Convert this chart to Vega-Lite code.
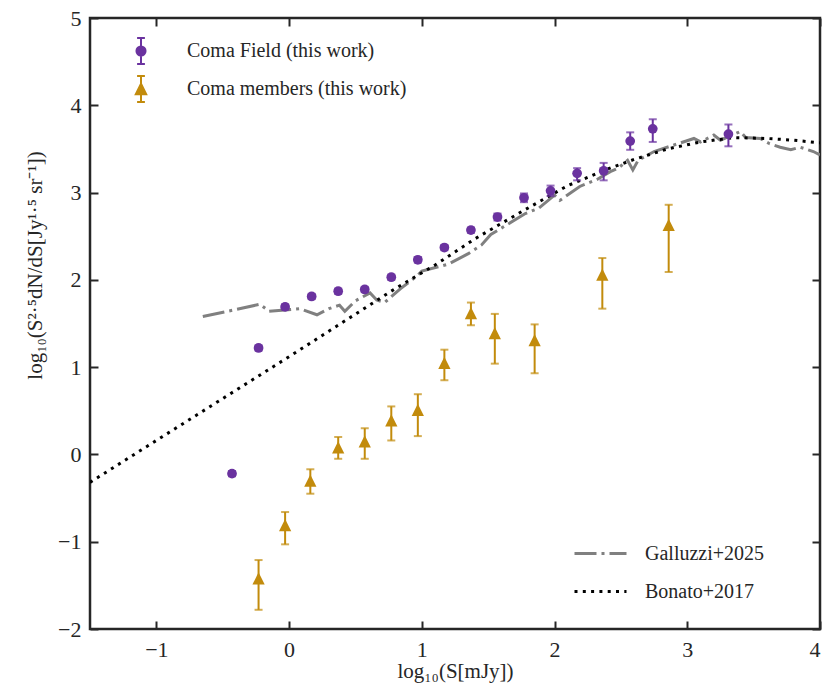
{
  "$schema": "https://vega.github.io/schema/vega-lite/v6.json",
  "width": 730,
  "height": 611,
  "autosize": "none",
  "padding": {"left": 90, "top": 18, "right": 7, "bottom": 62},
  "background": "white",
  "config": {
    "view": {"stroke": "#262626", "strokeWidth": 2.5},
    "font": "Liberation Serif",
    "axis": {
      "grid": false, "domain": false, "ticks": true, "tickSize": -8, "tickWidth": 2,
      "tickColor": "#262626", "labelFont": "Liberation Serif", "labelFontSize": 22,
      "labelColor": "#262626", "titleFont": "Liberation Serif", "titleFontSize": 21,
      "titleFontWeight": "normal", "titleColor": "#262626"
    },
    "legend": {"labelFont": "Liberation Serif", "labelFontSize": 20, "labelColor": "#262626", "labelLimit": 500, "padding": 0, "title": null}
  },
  "datasets": {
    "field": [
      {"x": -0.43, "y": -0.22, "lo": -0.25, "hi": -0.19},
      {"x": -0.23, "y": 1.22, "lo": 1.19, "hi": 1.25},
      {"x": -0.03, "y": 1.69, "lo": 1.66, "hi": 1.72},
      {"x": 0.17, "y": 1.81, "lo": 1.78, "hi": 1.84},
      {"x": 0.37, "y": 1.87, "lo": 1.84, "hi": 1.9},
      {"x": 0.57, "y": 1.89, "lo": 1.86, "hi": 1.92},
      {"x": 0.77, "y": 2.03, "lo": 2.0, "hi": 2.06},
      {"x": 0.97, "y": 2.23, "lo": 2.2, "hi": 2.26},
      {"x": 1.17, "y": 2.37, "lo": 2.34, "hi": 2.4},
      {"x": 1.37, "y": 2.57, "lo": 2.54, "hi": 2.6},
      {"x": 1.57, "y": 2.72, "lo": 2.68, "hi": 2.76},
      {"x": 1.77, "y": 2.94, "lo": 2.89, "hi": 2.99},
      {"x": 1.97, "y": 3.02, "lo": 2.96, "hi": 3.08},
      {"x": 2.17, "y": 3.22, "lo": 3.14, "hi": 3.28},
      {"x": 2.37, "y": 3.25, "lo": 3.14, "hi": 3.34},
      {"x": 2.57, "y": 3.59, "lo": 3.49, "hi": 3.69},
      {"x": 2.74, "y": 3.73, "lo": 3.58, "hi": 3.84},
      {"x": 3.31, "y": 3.67, "lo": 3.53, "hi": 3.78}
    ],
    "members": [
      {"x": -0.23, "y": -1.42, "lo": -1.78, "hi": -1.21},
      {"x": -0.03, "y": -0.81, "lo": -1.03, "hi": -0.66},
      {"x": 0.16, "y": -0.3, "lo": -0.45, "hi": -0.17},
      {"x": 0.37, "y": 0.08, "lo": -0.05, "hi": 0.2},
      {"x": 0.57, "y": 0.15, "lo": -0.05, "hi": 0.3},
      {"x": 0.77, "y": 0.39, "lo": 0.16, "hi": 0.55},
      {"x": 0.97, "y": 0.51, "lo": 0.21, "hi": 0.69},
      {"x": 1.17, "y": 1.05, "lo": 0.85, "hi": 1.2},
      {"x": 1.37, "y": 1.62, "lo": 1.48, "hi": 1.74},
      {"x": 1.55, "y": 1.39, "lo": 1.04, "hi": 1.61},
      {"x": 1.85, "y": 1.31, "lo": 0.93, "hi": 1.49},
      {"x": 2.36, "y": 2.06, "lo": 1.67, "hi": 2.25},
      {"x": 2.86, "y": 2.63, "lo": 2.09, "hi": 2.86}
    ],
    "bonato": [
      {"model": "Bonato+2017", "x": -1.5, "y": -0.32},
      {"model": "Bonato+2017", "x": -1.0, "y": 0.16},
      {"model": "Bonato+2017", "x": -0.5, "y": 0.64},
      {"model": "Bonato+2017", "x": 0.0, "y": 1.12},
      {"model": "Bonato+2017", "x": 0.4, "y": 1.51},
      {"model": "Bonato+2017", "x": 0.8, "y": 1.9},
      {"model": "Bonato+2017", "x": 1.1, "y": 2.17},
      {"model": "Bonato+2017", "x": 1.4, "y": 2.47},
      {"model": "Bonato+2017", "x": 1.75, "y": 2.78},
      {"model": "Bonato+2017", "x": 2.1, "y": 3.08},
      {"model": "Bonato+2017", "x": 2.4, "y": 3.27},
      {"model": "Bonato+2017", "x": 2.6, "y": 3.38},
      {"model": "Bonato+2017", "x": 2.85, "y": 3.5},
      {"model": "Bonato+2017", "x": 3.1, "y": 3.58},
      {"model": "Bonato+2017", "x": 3.35, "y": 3.63},
      {"model": "Bonato+2017", "x": 3.6, "y": 3.62},
      {"model": "Bonato+2017", "x": 3.8, "y": 3.6},
      {"model": "Bonato+2017", "x": 4.0, "y": 3.57}
    ],
    "galluzzi": [
      {"model": "Galluzzi+2025", "x": -0.65, "y": 1.58},
      {"model": "Galluzzi+2025", "x": -0.4, "y": 1.66},
      {"model": "Galluzzi+2025", "x": -0.22, "y": 1.72},
      {"model": "Galluzzi+2025", "x": -0.15, "y": 1.64},
      {"model": "Galluzzi+2025", "x": 0.08, "y": 1.67},
      {"model": "Galluzzi+2025", "x": 0.21, "y": 1.6},
      {"model": "Galluzzi+2025", "x": 0.3, "y": 1.67},
      {"model": "Galluzzi+2025", "x": 0.38, "y": 1.71},
      {"model": "Galluzzi+2025", "x": 0.42, "y": 1.64},
      {"model": "Galluzzi+2025", "x": 0.5, "y": 1.76},
      {"model": "Galluzzi+2025", "x": 0.61, "y": 1.85},
      {"model": "Galluzzi+2025", "x": 0.66, "y": 1.77},
      {"model": "Galluzzi+2025", "x": 0.72, "y": 1.74},
      {"model": "Galluzzi+2025", "x": 0.84, "y": 1.9},
      {"model": "Galluzzi+2025", "x": 0.96, "y": 2.04},
      {"model": "Galluzzi+2025", "x": 1.0, "y": 2.1},
      {"model": "Galluzzi+2025", "x": 1.2, "y": 2.18},
      {"model": "Galluzzi+2025", "x": 1.35, "y": 2.3},
      {"model": "Galluzzi+2025", "x": 1.45, "y": 2.4},
      {"model": "Galluzzi+2025", "x": 1.52, "y": 2.52},
      {"model": "Galluzzi+2025", "x": 1.64, "y": 2.63},
      {"model": "Galluzzi+2025", "x": 1.78, "y": 2.76},
      {"model": "Galluzzi+2025", "x": 1.88, "y": 2.82},
      {"model": "Galluzzi+2025", "x": 2.0, "y": 2.97},
      {"model": "Galluzzi+2025", "x": 2.04, "y": 2.91},
      {"model": "Galluzzi+2025", "x": 2.19, "y": 3.07},
      {"model": "Galluzzi+2025", "x": 2.32, "y": 3.15},
      {"model": "Galluzzi+2025", "x": 2.42, "y": 3.24},
      {"model": "Galluzzi+2025", "x": 2.48, "y": 3.28},
      {"model": "Galluzzi+2025", "x": 2.55, "y": 3.37},
      {"model": "Galluzzi+2025", "x": 2.59, "y": 3.26},
      {"model": "Galluzzi+2025", "x": 2.63, "y": 3.37},
      {"model": "Galluzzi+2025", "x": 2.75, "y": 3.47},
      {"model": "Galluzzi+2025", "x": 2.95, "y": 3.57},
      {"model": "Galluzzi+2025", "x": 3.05, "y": 3.62},
      {"model": "Galluzzi+2025", "x": 3.1, "y": 3.58},
      {"model": "Galluzzi+2025", "x": 3.2, "y": 3.66},
      {"model": "Galluzzi+2025", "x": 3.25, "y": 3.6},
      {"model": "Galluzzi+2025", "x": 3.4, "y": 3.7},
      {"model": "Galluzzi+2025", "x": 3.44, "y": 3.63},
      {"model": "Galluzzi+2025", "x": 3.55, "y": 3.62},
      {"model": "Galluzzi+2025", "x": 3.62, "y": 3.56},
      {"model": "Galluzzi+2025", "x": 3.7, "y": 3.52},
      {"model": "Galluzzi+2025", "x": 3.78, "y": 3.49},
      {"model": "Galluzzi+2025", "x": 3.85, "y": 3.52},
      {"model": "Galluzzi+2025", "x": 3.95, "y": 3.47},
      {"model": "Galluzzi+2025", "x": 4.0, "y": 3.43}
    ]
  },
  "layer": [
    {
      "data": {"name": "galluzzi"},
      "mark": {"type": "line", "strokeWidth": 3, "color": "#808080", "clip": true},
      "encoding": {
        "x": {"field": "x", "type": "quantitative",
          "scale": {"domain": [-1.5, 4], "nice": false, "zero": false},
          "axis": {"orient": "bottom", "values": [-1, 0, 1, 2, 3, 4], "labelPadding": 18,
            "title": "log₁₀(S[mJy])", "titleY": 48, "titleBaseline": "alphabetic"}},
        "y": {"field": "y", "type": "quantitative",
          "scale": {"domain": [-2, 5], "nice": false, "zero": false},
          "axis": {"orient": "left", "values": [-2, -1, 0, 1, 2, 3, 4, 5], "labelPadding": 17,
            "title": "log₁₀(S²·⁵dN/dS[Jy¹·⁵ sr⁻¹])", "titleX": -55, "titleY": 247,
            "titleAngle": -90, "titleAlign": "center", "titleBaseline": "middle"}},
        "strokeDash": {"field": "model", "type": "nominal",
          "scale": {"domain": ["Galluzzi+2025"], "range": [[22, 5, 3, 5]]},
          "legend": {"orient": "none", "legendX": 483, "legendY": 508,
            "symbolType": "stroke", "symbolSize": 2704, "symbolStrokeWidth": 3,
            "symbolStrokeColor": "#808080", "labelOffset": 17}}
      }
    },
    {
      "data": {"name": "bonato"},
      "mark": {"type": "line", "strokeWidth": 3, "color": "#000000", "clip": true},
      "encoding": {
        "x": {"field": "x", "type": "quantitative", "axis": null},
        "y": {"field": "y", "type": "quantitative", "axis": null},
        "strokeDash": {"field": "model", "type": "nominal",
          "scale": {"domain": ["Bonato+2017"], "range": [[3, 5.3]]},
          "legend": {"orient": "none", "legendX": 483, "legendY": 546,
            "symbolType": "stroke", "symbolSize": 2704, "symbolStrokeWidth": 3,
            "symbolStrokeColor": "#000000", "labelOffset": 17}}
      }
    },
    {
      "data": {"name": "field"},
      "mark": {"type": "rule", "color": "#6a329f", "strokeWidth": 2},
      "encoding": {
        "x": {"field": "x", "type": "quantitative", "axis": null},
        "y": {"field": "lo", "type": "quantitative", "axis": null},
        "y2": {"field": "hi"}
      }
    },
    {
      "data": {"name": "field"},
      "mark": {"type": "tick", "orient": "horizontal", "color": "#6a329f", "size": 8, "thickness": 2},
      "encoding": {
        "x": {"field": "x", "type": "quantitative", "axis": null},
        "y": {"field": "lo", "type": "quantitative", "axis": null}
      }
    },
    {
      "data": {"name": "field"},
      "mark": {"type": "tick", "orient": "horizontal", "color": "#6a329f", "size": 8, "thickness": 2},
      "encoding": {
        "x": {"field": "x", "type": "quantitative", "axis": null},
        "y": {"field": "hi", "type": "quantitative", "axis": null}
      }
    },
    {
      "data": {"name": "field"},
      "mark": {"type": "point", "shape": "circle", "size": 95, "filled": true, "opacity": 1, "color": "#6a329f"},
      "encoding": {
        "x": {"field": "x", "type": "quantitative", "axis": null},
        "y": {"field": "y", "type": "quantitative", "axis": null}
      }
    },
    {
      "data": {"name": "members"},
      "mark": {"type": "rule", "color": "#c28b0c", "strokeWidth": 2},
      "encoding": {
        "x": {"field": "x", "type": "quantitative",
          "axis": {"orient": "top", "values": [-1, 0, 1, 2, 3, 4], "labels": false, "title": null}},
        "y": {"field": "lo", "type": "quantitative",
          "axis": {"orient": "right", "values": [-2, -1, 0, 1, 2, 3, 4, 5], "labels": false, "title": null}},
        "y2": {"field": "hi"}
      }
    },
    {
      "data": {"name": "members"},
      "mark": {"type": "tick", "orient": "horizontal", "color": "#c28b0c", "size": 8, "thickness": 2},
      "encoding": {
        "x": {"field": "x", "type": "quantitative", "axis": null},
        "y": {"field": "lo", "type": "quantitative", "axis": null}
      }
    },
    {
      "data": {"name": "members"},
      "mark": {"type": "tick", "orient": "horizontal", "color": "#c28b0c", "size": 8, "thickness": 2},
      "encoding": {
        "x": {"field": "x", "type": "quantitative", "axis": null},
        "y": {"field": "hi", "type": "quantitative", "axis": null}
      }
    },
    {
      "data": {"name": "members"},
      "mark": {"type": "point", "shape": "M0,-1L1,1L-1,1Z", "size": 150, "filled": true, "opacity": 1, "color": "#c28b0c"},
      "encoding": {
        "x": {"field": "x", "type": "quantitative", "axis": null},
        "y": {"field": "y", "type": "quantitative", "axis": null}
      }
    },
    {
      "data": {"values": []},
      "mark": {"type": "point", "filled": false, "strokeWidth": 2, "opacity": 1, "color": "#6a329f"},
      "encoding": {
        "x": {"field": "x", "type": "quantitative", "axis": null},
        "y": {"field": "y", "type": "quantitative", "axis": null},
        "shape": {"field": "series", "type": "nominal",
          "scale": {"domain": ["Coma Field (this work)"],
            "range": ["M0,-1V1M-0.3,-1H0.3M-0.3,1H0.3M-0.35,0A0.35,0.35,0,1,0,0.35,0A0.35,0.35,0,1,0,-0.35,0M-0.23,0A0.23,0.23,0,1,0,0.23,0A0.23,0.23,0,1,0,-0.23,0M-0.11,0A0.11,0.11,0,1,0,0.11,0A0.11,0.11,0,1,0,-0.11,0"]},
          "legend": {"orient": "none", "legendX": 37, "legendY": 19, "symbolSize": 676,
            "symbolStrokeWidth": 2, "symbolOpacity": 1, "labelOffset": 32}}
      }
    },
    {
      "data": {"values": []},
      "mark": {"type": "point", "filled": false, "strokeWidth": 2, "opacity": 1, "color": "#c28b0c"},
      "encoding": {
        "x": {"field": "x", "type": "quantitative", "axis": null},
        "y": {"field": "y", "type": "quantitative", "axis": null},
        "shape": {"field": "series", "type": "nominal",
          "scale": {"domain": ["Coma members (this work)"],
            "range": ["M0,-1V1M-0.3,-1H0.3M-0.3,1H0.3M0,-0.4L0.4,0.4L-0.4,0.4ZM0,-0.28L0.28,0.28L-0.28,0.28ZM0,-0.16L0.16,0.16L-0.16,0.16ZM0,-0.05L0.05,0.05L-0.05,0.05Z"]},
          "legend": {"orient": "none", "legendX": 37, "legendY": 57, "symbolSize": 676,
            "symbolStrokeWidth": 2, "symbolOpacity": 1, "labelOffset": 32}}
      }
    }
  ],
  "resolve": {
    "scale": {"shape": "independent", "strokeDash": "independent"},
    "axis": {"x": "independent", "y": "independent"}
  }
}
